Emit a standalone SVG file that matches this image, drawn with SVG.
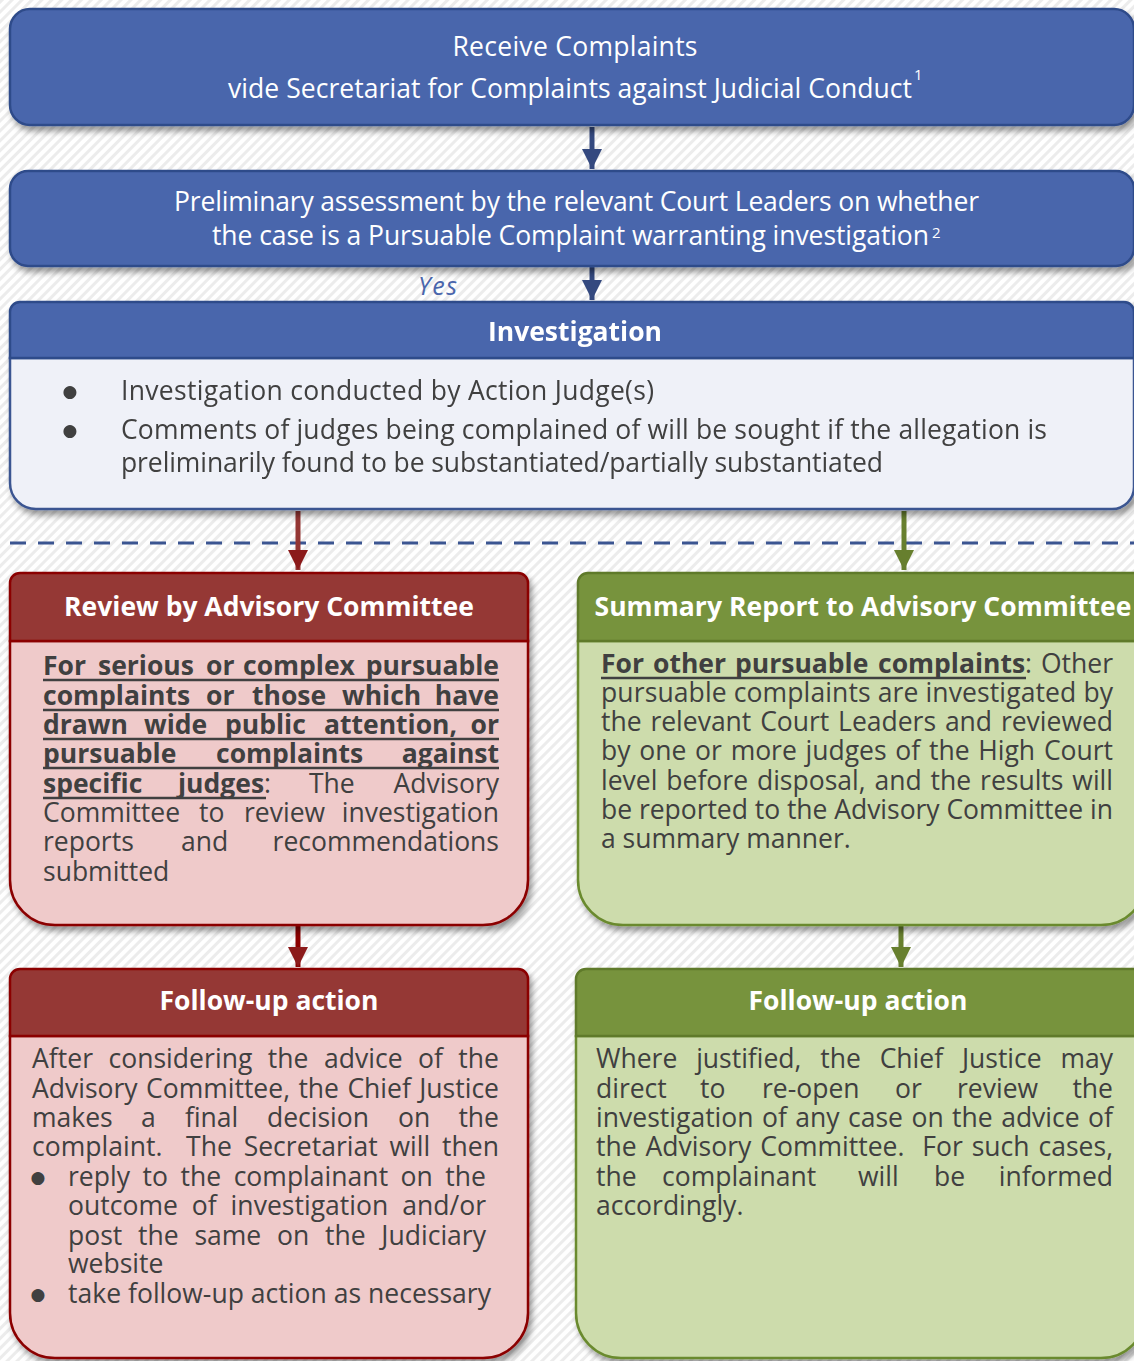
<svg xmlns="http://www.w3.org/2000/svg" width="1134" height="1361" viewBox="0 0 1134 1361">
<defs>
<pattern id="bg" width="7" height="7" patternUnits="userSpaceOnUse" patternTransform="rotate(45)">
<rect width="7" height="7" fill="#ffffff"/><rect width="3" height="7" fill="#ececec"/>
</pattern>
<filter id="sh" x="-5%" y="-10%" width="115%" height="130%">
<feDropShadow dx="3" dy="5" stdDeviation="3" flood-color="#000" flood-opacity="0.4"/>
</filter>
<marker id="ab" markerWidth="4" markerHeight="4" refX="4" refY="2" orient="auto" markerUnits="strokeWidth"><path d="M0,0 L4,2 L0,4 Z" fill="#34497f"/></marker>
<marker id="ar" markerWidth="4" markerHeight="4" refX="4" refY="2" orient="auto" markerUnits="strokeWidth"><path d="M0,0 L4,2 L0,4 Z" fill="#8b1a1a"/></marker>
<marker id="ag" markerWidth="4" markerHeight="4" refX="4" refY="2" orient="auto" markerUnits="strokeWidth"><path d="M0,0 L4,2 L0,4 Z" fill="#677f2e"/></marker>
<style>
text{font-family:"Open Sans","Noto Sans",sans-serif;}
.w{fill:#ffffff;font-size:26.5px;}
.wt{fill:#ffffff;font-size:26.5px;font-weight:bold;text-anchor:middle;}
.b{fill:#404040;font-size:26.5px;}
.bb{font-weight:bold;}
.bul{fill:#404040;font-family:"DejaVu Sans",sans-serif;font-size:17px;text-anchor:middle;}
.ul{stroke:#404040;stroke-width:2.5;}
.blue{fill:#4a66ac;stroke:#2f4b8a;stroke-width:2.5;}
.invb{fill:#eff1f8;stroke:#3b5591;stroke-width:2.5;}
.redh{fill:#953735;stroke:#8b0000;stroke-width:2.5;}
.redb{fill:#efcaca;stroke:#8b0000;stroke-width:2.5;}
.grnh{fill:#77933c;stroke:#5f7a2b;stroke-width:2.5;}
.grnb{fill:#cddcac;stroke:#6a8a2e;stroke-width:2.5;}
.end{text-anchor:end;}
</style>
</defs>
<rect width="1134" height="1361" fill="url(#bg)"/>

<g id="connectors">
<line x1="10" y1="543" x2="1134" y2="543" stroke="#3b5591" stroke-width="3" stroke-dasharray="16 12"/>
<line x1="592" y1="127" x2="592" y2="169" stroke="#34497f" stroke-width="5" marker-end="url(#ab)"/>
<line x1="592" y1="267" x2="592" y2="300" stroke="#34497f" stroke-width="5" marker-end="url(#ab)"/>
<line x1="298" y1="511" x2="298" y2="570" stroke="#943634" stroke-width="5" marker-end="url(#ar)"/>
<line x1="904" y1="511" x2="904" y2="570" stroke="#677f2e" stroke-width="5" marker-end="url(#ag)"/>
<line x1="298" y1="926" x2="298" y2="967" stroke="#8b0000" stroke-width="5" marker-end="url(#ar)"/>
<line x1="901" y1="926" x2="901" y2="967" stroke="#677f2e" stroke-width="5" marker-end="url(#ag)"/>
<text x="418" y="295" textLength="39" style="font-size:25px;font-style:italic;fill:#4a66ac;">Yes</text>
</g>

<g id="receive">
<rect class="blue" x="10" y="9" width="1124" height="116" rx="20" filter="url(#sh)"/>
<text class="w" x="575" y="56" text-anchor="middle" textLength="245">Receive Complaints</text>
<text class="w" x="228" y="98" textLength="684">vide Secretariat for Complaints against Judicial Conduct</text>
<text class="w" x="914" y="80" style="font-size:15px">1</text>
</g>

<g id="preliminary">
<rect class="blue" x="10" y="171" width="1124" height="95" rx="18" filter="url(#sh)"/>
<text class="w" x="174" y="211" textLength="805">Preliminary assessment by the relevant Court Leaders on whether</text>
<text class="w" x="212" y="245" textLength="717">the case is a Pursuable Complaint warranting investigation</text>
<text class="w" x="932" y="238" style="font-size:15px">2</text>
</g>

<g id="investigation" filter="url(#sh)">
<path class="invb" d="M10,358 H1134 V487 A22,22 0 0 1 1112,509 H36 A26,26 0 0 1 10,483 Z"/>
<path class="blue" d="M10,358 V312 A10,10 0 0 1 20,302 H1124 A10,10 0 0 1 1134,312 V358 Z"/>
<text class="wt" x="575" y="341">Investigation</text>
<text class="bul" x="70" y="397">●</text>
<text class="b" x="121" y="400" textLength="533">Investigation conducted by Action Judge(s)</text>
<text class="bul" x="70" y="436">●</text>
<text class="b" x="121" y="439" textLength="926">Comments of judges being complained of will be sought if the allegation is</text>
<text class="b" x="121" y="472" textLength="762">preliminarily found to be substantiated/partially substantiated</text>
</g>

<g id="review">
<g filter="url(#sh)">
<path class="redb" d="M10,641 H528 V880 A45,45 0 0 1 483,925 H55 A45,45 0 0 1 10,880 Z"/>
<path class="redh" d="M10,641 V583 A10,10 0 0 1 20,573 H518 A10,10 0 0 1 528,583 V641 Z"/>
</g>
<text class="wt" x="269" y="616">Review by Advisory Committee</text>
<text class="b bb" y="675"><tspan x="43">For</tspan><tspan x="98">serious</tspan><tspan x="206">or</tspan><tspan x="243">complex</tspan><tspan x="499" class="end">pursuable</tspan></text>
<text class="b bb" y="705"><tspan x="43">complaints</tspan><tspan x="206">or</tspan><tspan x="252">those</tspan><tspan x="342">which</tspan><tspan x="499" class="end">have</tspan></text>
<text class="b bb" y="734"><tspan x="43">drawn</tspan><tspan x="144">wide</tspan><tspan x="225">public</tspan><tspan x="324">attention,</tspan><tspan x="499" class="end">or</tspan></text>
<text class="b bb" y="763"><tspan x="43">pursuable</tspan><tspan x="216">complaints</tspan><tspan x="499" class="end">against</tspan></text>
<text class="b" y="793"><tspan x="43" class="bb">specific</tspan><tspan x="178" class="bb">judges</tspan><tspan>:</tspan><tspan x="309">The</tspan><tspan x="499" class="end">Advisory</tspan></text>
<text class="b" y="822"><tspan x="43">Committee</tspan><tspan x="199">to</tspan><tspan x="244">review</tspan><tspan x="499" class="end">investigation</tspan></text>
<text class="b" y="851"><tspan x="43">reports</tspan><tspan x="181">and</tspan><tspan x="499" class="end">recommendations</tspan></text>
<text class="b" x="43" y="881">submitted</text>
<line class="ul" x1="43" y1="680" x2="499" y2="680"/>
<line class="ul" x1="43" y1="710" x2="499" y2="710"/>
<line class="ul" x1="43" y1="739" x2="499" y2="739"/>
<line class="ul" x1="43" y1="768" x2="499" y2="768"/>
<line class="ul" x1="43" y1="798" x2="266" y2="798"/>
</g>

<g id="summary">
<g filter="url(#sh)">
<path class="grnb" d="M578,641 H1146 V880 A45,45 0 0 1 1101,925 H623 A45,45 0 0 1 578,880 Z"/>
<path class="grnh" d="M578,641 V583 A10,10 0 0 1 588,573 H1146 V641 Z"/>
</g>
<text class="wt" x="863" y="616" textLength="537">Summary Report to Advisory Committee</text>
<text class="b" y="673"><tspan x="601" class="bb">For</tspan><tspan x="653" class="bb">other</tspan><tspan x="735" class="bb">pursuable</tspan><tspan x="878" class="bb">complaints</tspan><tspan>:</tspan><tspan x="1113" class="end">Other</tspan></text>
<line class="ul" x1="601" y1="678" x2="1026" y2="678"/>
<text class="b" x="601" y="702" textLength="512">pursuable complaints are investigated by</text>
<text class="b" x="601" y="731" textLength="512" word-spacing="2">the relevant Court Leaders and reviewed</text>
<text class="b" x="601" y="760" textLength="512" word-spacing="2">by one or more judges of the High Court</text>
<text class="b" x="601" y="790" textLength="512" word-spacing="2">level before disposal, and the results will</text>
<text class="b" x="601" y="819" textLength="512">be reported to the Advisory Committee in</text>
<text class="b" x="601" y="848">a summary manner.</text>
</g>

<g id="followup-red">
<g filter="url(#sh)">
<path class="redb" d="M10,1036 H528 V1313 A45,45 0 0 1 483,1358 H55 A45,45 0 0 1 10,1313 Z"/>
<path class="redh" d="M10,1036 V979 A10,10 0 0 1 20,969 H518 A10,10 0 0 1 528,979 V1036 Z"/>
</g>
<text class="wt" x="269" y="1010">Follow-up action</text>
<text class="b" x="32" y="1068" textLength="467" word-spacing="8.5">After considering the advice of the</text>
<text class="b" x="32" y="1098" textLength="467" word-spacing="1.5">Advisory Committee, the Chief Justice</text>
<text class="b" y="1127"><tspan x="32">makes</tspan><tspan x="141">a</tspan><tspan x="185">final</tspan><tspan x="267">decision</tspan><tspan x="398">on</tspan><tspan x="499" class="end">the</tspan></text>
<text class="b" x="32" y="1156" textLength="467" word-spacing="4.8">complaint.&#160; The Secretariat will then</text>
<text class="bul" x="38" y="1183">●</text>
<text class="b" x="68" y="1186" textLength="418" word-spacing="5.6">reply to the complainant on the</text>
<text class="b" x="68" y="1215" textLength="418" word-spacing="7">outcome of investigation and/or</text>
<text class="b" x="68" y="1245" textLength="418" word-spacing="8.8">post the same on the Judiciary</text>
<text class="b" x="68" y="1273">website</text>
<text class="bul" x="38" y="1300">●</text>
<text class="b" x="68" y="1303" textLength="423">take follow-up action as necessary</text>
</g>

<g id="followup-green">
<g filter="url(#sh)">
<path class="grnb" d="M576,1036 H1146 V1313 A45,45 0 0 1 1101,1358 H621 A45,45 0 0 1 576,1313 Z"/>
<path class="grnh" d="M576,1036 V979 A10,10 0 0 1 586,969 H1146 V1036 Z"/>
</g>
<text class="wt" x="858" y="1010">Follow-up action</text>
<text class="b" x="596" y="1068" textLength="517" word-spacing="12">Where justified, the Chief Justice may</text>
<text class="b" y="1098"><tspan x="596">direct</tspan><tspan x="700">to</tspan><tspan x="762">re-open</tspan><tspan x="895">or</tspan><tspan x="957">review</tspan><tspan x="1113" class="end">the</tspan></text>
<text class="b" x="596" y="1127" textLength="517" word-spacing="1.5">investigation of any case on the advice of</text>
<text class="b" x="596" y="1156" textLength="517" word-spacing="2">the Advisory Committee.&#160; For such cases,</text>
<text class="b" y="1186"><tspan x="596">the</tspan><tspan x="662">complainant</tspan><tspan x="858">will</tspan><tspan x="934">be</tspan><tspan x="1113" class="end">informed</tspan></text>
<text class="b" x="596" y="1215">accordingly.</text>
</g>
</svg>
